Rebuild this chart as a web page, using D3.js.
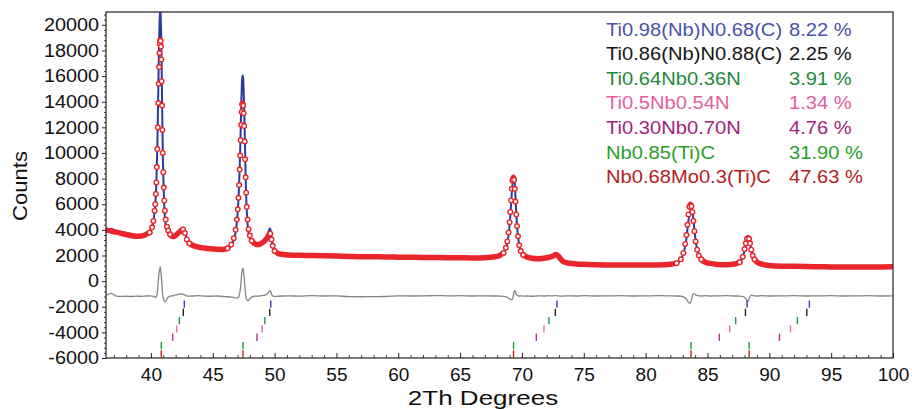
<!DOCTYPE html>
<html>
<head>
<meta charset="utf-8">
<script src="https://cdnjs.cloudflare.com/ajax/libs/d3/7.8.5/d3.min.js"></script>
<style>
  body { margin: 0; background: #fff; }
  svg { font-family: Arial, "Liberation Sans", sans-serif; }
</style>
</head>
<body>
<svg id="chart" width="912" height="410"></svg>
<script>
// 2theta grid (denser across the peaks)
const twoTheta = [
  36.4, 36.8, 37.2, 37.6, 38.0, 38.4, 38.8, 39.2, 39.6, 39.9, 40.1, 40.2, 40.3,
  40.35, 40.40, 40.44, 40.48, 40.52, 40.56, 40.60, 40.63, 40.66, 40.69, 40.72, 40.75, 40.78, 40.81, 40.84, 40.87, 40.90, 40.93, 40.96, 41.00, 41.04, 41.08, 41.13, 41.2,
  41.3, 41.4, 41.55, 41.7, 41.85, 42.0, 42.15, 42.3, 42.45, 42.6, 42.75, 42.9, 43.1, 43.4, 43.8, 44.3, 44.8, 45.3, 45.8, 46.2, 46.5, 46.7,
  46.85, 46.95, 47.02, 47.08, 47.13, 47.18, 47.22, 47.26, 47.30, 47.34, 47.38, 47.42, 47.46, 47.50, 47.54, 47.58, 47.62, 47.66, 47.70, 47.75, 47.82, 47.9, 48.0,
  48.15, 48.35, 48.6, 48.85, 49.1, 49.3, 49.45, 49.55, 49.65, 49.75, 49.85, 50.0, 50.3, 50.7, 51.2,
  52, 53, 54, 55, 56, 57, 58, 59, 60, 61, 62, 63, 64, 65, 66, 67, 67.8,
  68.2, 68.5, 68.7, 68.82, 68.92, 69.0, 69.06, 69.12, 69.18, 69.24, 69.30, 69.36, 69.42, 69.48, 69.54, 69.60, 69.68, 69.78, 69.9,
  70.1, 70.4, 70.8, 71.3, 71.8, 72.2, 72.5, 72.75, 72.95, 73.15, 73.4, 73.8, 74.4, 75, 76, 77, 78, 79, 80, 81, 82, 82.5,
  82.85, 83.05, 83.2, 83.3, 83.38, 83.46, 83.54, 83.62, 83.70, 83.78, 83.86, 83.94, 84.04, 84.16, 84.3, 84.5, 84.8, 85.2, 85.8, 86.5, 87.2, 87.6,
  87.85, 88.0, 88.1, 88.2, 88.28, 88.36, 88.44, 88.54, 88.66, 88.8, 89.0, 89.4, 90, 91, 92, 93, 94, 95, 96, 97, 98, 99, 100
];

const yCalc = [
  3980, 3900, 3820, 3730, 3640, 3560, 3500, 3520, 3640, 3800, 4200, 4700, 5500,
  6000, 6800, 7700, 8900, 10300, 12000, 13900, 15400, 16700, 17800, 18500, 18800, 18750, 18300, 17300, 15600, 13700, 11800, 10000, 8500, 7300, 6300, 5500, 4800,
  4250, 3950, 3650, 3500, 3480, 3560, 3700, 3820, 3950, 4030, 3750, 3250, 2950, 2780, 2660, 2580, 2520, 2480, 2470, 2560, 2850, 3350,
  4000, 4800, 5600, 6500, 7500, 8700, 9800, 11000, 12200, 13200, 13800, 13900, 13700, 13100, 12100, 10900, 9500, 8100, 6900, 5800, 4800, 4050, 3550,
  3150, 2950, 2850, 2900, 3050, 3250, 3450, 3650, 3700, 3250, 2750, 2350, 2150, 2080, 2040,
  2010, 1990, 1970, 1950, 1930, 1910, 1900, 1880, 1870, 1860, 1850, 1840, 1830, 1820, 1810, 1830, 1900,
  2000, 2200, 2600, 3100, 3800, 4600, 5400, 6300, 7200, 7850, 8100, 7900, 7200, 6200, 5200, 4300, 3500, 2800, 2350,
  2050, 1880, 1780, 1740, 1780, 1860, 1950, 2080, 1950, 1700, 1500, 1400, 1340, 1310, 1280, 1260, 1250, 1250, 1250, 1260, 1320, 1400,
  1700, 2200, 2900, 3600, 4400, 5200, 5800, 6000, 5850, 5400, 4700, 3900, 3100, 2450, 2000, 1700, 1480, 1380, 1300, 1270, 1330, 1480,
  1900, 2500, 2950, 3300, 3400, 3300, 2950, 2450, 2000, 1700, 1480, 1330, 1220, 1160, 1150, 1140, 1120, 1110, 1100, 1100, 1100, 1110, 1120
];

const yObs = [
  4030, 4090, 3800, 3690, 3610, 3510, 3480, 3480, 3630, 3800, 4180, 4660, 5420,
  5900, 6690, 7650, 8950, 10550, 12650, 15050, 16900, 18500, 19800, 20600, 21050, 20900, 20100, 18800, 16750, 14450, 12150, 10000, 8350, 7000, 5900, 5050, 4370,
  4000, 3850, 3620, 3500, 3500, 3630, 3800, 3950, 4100, 4150, 3820, 3250, 2930, 2770, 2670, 2560, 2490, 2470, 2420, 2490, 2750, 3220,
  3830, 4620, 5450, 6400, 7500, 8900, 10250, 11800, 13450, 14900, 15800, 16050, 15800, 14900, 13500, 11850, 10050, 8250, 6700, 5500, 4430, 3700, 3320,
  3050, 2920, 2830, 2890, 3080, 3340, 3650, 4000, 4100, 3400, 2750, 2300, 2120, 2070, 2040,
  1990, 2000, 1960, 1950, 1870, 1840, 1840, 1830, 1870, 1850, 1850, 1860, 1830, 1830, 1800, 1830, 1890,
  1980, 2160, 2530, 2990, 3630, 4350, 5120, 6000, 6880, 7600, 8100, 8200, 7600, 6500, 5350, 4350, 3500, 2790, 2350,
  2030, 1870, 1750, 1740, 1770, 1870, 1950, 2100, 1940, 1680, 1490, 1400, 1330, 1320, 1270, 1260, 1260, 1240, 1250, 1270, 1320, 1390,
  1670, 2120, 2730, 3330, 4020, 4700, 5230, 5450, 5550, 5400, 4850, 4030, 3170, 2480, 2000, 1690, 1490, 1370, 1300, 1280, 1320, 1460,
  1850, 2370, 2720, 2930, 2950, 3050, 2900, 2500, 2030, 1700, 1470, 1340, 1210, 1160, 1160, 1130, 1120, 1120, 1090, 1100, 1110, 1100, 1120
];

// difference curve as plotted (offset below zero)
const yDiff = [
  -1100, -960, -1170, -1190, -1180, -1200, -1170, -1190, -1160, -1150, -1170, -1190, -1230,
  -1250, -1260, -1200, -1100, -900, -500, 0, 350, 650, 850, 950, 1100, 1000, 650, 350, 0, -400, -800, -1150, -1300, -1450, -1550, -1600, -1580,
  -1400, -1250, -1180, -1150, -1130, -1080, -1050, -1020, -1000, -1030, -1080, -1150, -1170, -1160, -1140, -1170, -1180, -1160, -1200, -1220, -1250, -1280,
  -1320, -1330, -1300, -1250, -1150, -950, -700, -350, 100, 550, 850, 1000, 950, 650, 250, -200, -600, -1000, -1350, -1450, -1520, -1500, -1380,
  -1250, -1180, -1170, -1160, -1120, -1060, -950, -800, -750, -1000, -1150, -1200, -1180, -1160, -1150,
  -1170, -1140, -1160, -1150, -1210, -1220, -1210, -1200, -1150, -1160, -1150, -1130, -1150, -1140, -1160, -1150, -1160,
  -1170, -1190, -1220, -1260, -1320, -1400, -1430, -1450, -1470, -1400, -1150, -850, -750, -850, -1000, -1100, -1150, -1160, -1150,
  -1170, -1160, -1180, -1150, -1160, -1140, -1150, -1130, -1160, -1170, -1160, -1150, -1160, -1140, -1160, -1150, -1140, -1160, -1150, -1140, -1150, -1160,
  -1180, -1230, -1320, -1420, -1530, -1650, -1720, -1700, -1450, -1150, -1000, -1020, -1080, -1120, -1150, -1160, -1140, -1160, -1150, -1140, -1160, -1170,
  -1200, -1280, -1380, -1520, -1600, -1400, -1200, -1100, -1120, -1150, -1160, -1140, -1160, -1150, -1140, -1160, -1150, -1140, -1160, -1150, -1140, -1160, -1150
];

// phases: name, weight percent, reflection positions
const phaseNames = ['Ti0.98(Nb)N0.68(C)', 'Ti0.86(Nb)N0.88(C)', 'Ti0.64Nb0.36N', 'Ti0.5Nb0.54N',
  'Ti0.30Nb0.70N', 'Nb0.85(Ti)C', 'Nb0.68Mo0.3(Ti)C'];
const phasePct = ['8.22 %', '2.25 %', '3.91 %', '1.34 %', '4.76 %', '31.90 %', '47.63 %'];
const phasePeaks = [
  [42.70, 49.69, 72.83, 88.20, 93.24],
  [42.62, 49.61, 72.70, 88.07, 93.03],
  [42.30, 49.21, 72.18, 87.28, 92.27],
  [42.08, 48.99, 71.78, 86.80, 91.71],
  [41.76, 48.58, 71.16, 85.96, 90.82],
  [40.84, 47.45, 69.32, 83.67, 88.37],
  [40.84, 47.45, 69.32, 83.67, 88.37]
];

const yTickValues = [-6000, -4000, -2000, 0, 2000, 4000, 6000, 8000, 10000, 12000, 14000, 16000, 18000, 20000];
const xTickValues = [40, 45, 50, 55, 60, 65, 70, 75, 80, 85, 90, 95, 100];

const textColors = ['#4a52a8', '#161616', '#1e8a3a', '#e2609e', '#a2237c', '#27a02a', '#b3201e'];
const tickColors = ['#3a40a8', '#222', '#1f9a40', '#e070b0', '#b03090', '#22a022', '#c52222'];

const margin = {top: 12, right: 19, bottom: 52, left: 106};
const width = 912 - margin.left - margin.right;
const height = 410 - margin.top - margin.bottom;
const fontFamily = 'Arial, "Liberation Sans", sans-serif';

const svg = d3.select('#chart');
svg.append('defs').append('clipPath').attr('id', 'plot-clip')
  .append('rect').attr('width', width).attr('height', height);

const g = svg.append('g').attr('transform', `translate(${margin.left},${margin.top})`);

const x = d3.scaleLinear().domain([36.37, 100]).range([0, width]);
const y = d3.scaleLinear().domain([-6000, 21000]).range([height, 0]);

function stretch(sel, k) {
  sel.each(function() {
    const w = this.getComputedTextLength();
    d3.select(this).attr('textLength', w * k).attr('lengthAdjust', 'spacingAndGlyphs');
  });
}

const pattern = twoTheta.map((t, i) => ({t, obs: yObs[i], calc: yCalc[i], diff: yDiff[i]}));

// calc points far apart on screen show as rings, the rest merge into a band
pattern.forEach((d, i) => {
  const py = y(d.calc);
  const prev = i > 0 ? Math.abs(py - y(pattern[i - 1].calc)) : 0;
  const next = i < pattern.length - 1 ? Math.abs(py - y(pattern[i + 1].calc)) : 0;
  d.steep = Math.max(prev, next) > 3.5;
});
pattern.forEach((d, i) => {
  d.band = !d.steep ||
    (i > 0 && !pattern[i - 1].steep) ||
    (i < pattern.length - 1 && !pattern[i + 1].steep);
});

const plot = g.append('g').attr('clip-path', 'url(#plot-clip)');

plot.append('path')
  .datum(pattern)
  .attr('fill', 'none')
  .attr('stroke', '#858585')
  .attr('stroke-width', 1.3)
  .attr('d', d3.line().x(d => x(d.t)).y(d => y(d.diff)).curve(d3.curveMonotoneX));

// reflection ticks
const rowTop = -1470;
const rowStep = 647;
const tickData = phasePeaks.flatMap((peaks, k) => peaks.map(t => ({t, k})));
plot.append('g')
  .selectAll('line')
  .data(tickData)
  .join('line')
    .attr('x1', d => x(d.t))
    .attr('x2', d => x(d.t))
    .attr('y1', d => y(rowTop - d.k * rowStep) + 0.5)
    .attr('y2', d => y(rowTop - (d.k + 1) * rowStep) - 0.5)
    .attr('stroke', d => tickColors[d.k])
    .attr('stroke-width', 1.4);

plot.append('path')
  .datum(pattern)
  .attr('fill', 'none')
  .attr('stroke', '#2c3aa0')
  .attr('stroke-width', 2)
  .attr('d', d3.line().x(d => x(d.t)).y(d => y(d.obs)).curve(d3.curveMonotoneX));

plot.append('path')
  .datum(pattern)
  .attr('fill', 'none')
  .attr('stroke', '#e8262c')
  .attr('stroke-width', 5.5)
  .attr('stroke-linecap', 'round')
  .attr('d', d3.line().defined(d => d.band).x(d => x(d.t)).y(d => y(d.calc)).curve(d3.curveMonotoneX));

plot.append('g')
  .selectAll('circle')
  .data(pattern.filter(d => d.steep))
  .join('circle')
    .attr('cx', d => x(d.t))
    .attr('cy', d => y(d.calc))
    .attr('r', 2.3)
    .attr('fill', '#fff')
    .attr('stroke', '#e8262c')
    .attr('stroke-width', 1.4);

// legend
const legend = svg.append('g').attr('font-size', 19);
legend.selectAll('.name')
  .data(phaseNames)
  .join('text')
    .attr('class', 'name')
    .attr('x', 606)
    .attr('y', (d, i) => 35.5 + i * 24.6)
    .attr('fill', (d, i) => textColors[i])
    .text(d => d)
    .call(stretch, 1.06);
legend.selectAll('.pct')
  .data(phasePct)
  .join('text')
    .attr('class', 'pct')
    .attr('x', 789)
    .attr('y', (d, i) => 35.5 + i * 24.6)
    .attr('fill', (d, i) => textColors[i])
    .text(d => d)
    .call(stretch, 1.06);

// axes
const yMinor = d3.range(-6000, 21001, 400).filter(v => v % 2000 !== 0);
g.append('g')
  .call(d3.axisLeft(y).tickValues(yMinor).tickSize(2).tickFormat(''))
  .call(a => a.select('.domain').remove())
  .selectAll('line').attr('stroke', '#444');

const yAxis = g.append('g')
  .call(d3.axisLeft(y).tickValues(yTickValues).tickSize(4).tickPadding(3).tickFormat(d => String(d)))
  .call(a => a.select('.domain').remove())
  .attr('font-size', 18)
  .attr('font-family', fontFamily);
yAxis.selectAll('line').attr('stroke', '#222');
yAxis.selectAll('text').attr('fill', '#111').call(stretch, 1.1);

const xMinor = d3.range(37, 101, 1).filter(v => v % 5 !== 0);
g.append('g')
  .attr('transform', `translate(0,${height})`)
  .call(d3.axisBottom(x).tickValues(xMinor).tickSizeInner(-3).tickSizeOuter(0).tickFormat(''))
  .call(a => a.select('.domain').remove())
  .selectAll('line').attr('stroke', '#444');

const xAxis = g.append('g')
  .attr('transform', `translate(0,${height})`)
  .call(d3.axisBottom(x).tickValues(xTickValues).tickSizeInner(-5).tickSizeOuter(0).tickPadding(10).tickFormat(d => String(d)))
  .call(a => a.select('.domain').remove())
  .attr('font-size', 19)
  .attr('font-family', fontFamily);
xAxis.selectAll('line').attr('stroke', '#222');
xAxis.selectAll('text').attr('fill', '#111');

g.append('rect')
  .attr('width', width)
  .attr('height', height)
  .attr('fill', 'none')
  .attr('stroke', '#222')
  .attr('stroke-width', 1.2);

svg.append('text')
  .attr('transform', 'translate(27,186) rotate(-90)')
  .attr('text-anchor', 'middle')
  .attr('font-size', 21)
  .attr('fill', '#111')
  .text('Counts')
  .call(stretch, 1.05);

svg.append('text')
  .attr('x', 483)
  .attr('y', 405)
  .attr('text-anchor', 'middle')
  .attr('font-size', 20)
  .attr('fill', '#111')
  .text('2Th Degrees')
  .call(stretch, 1.3);
</script>
</body>
</html>
